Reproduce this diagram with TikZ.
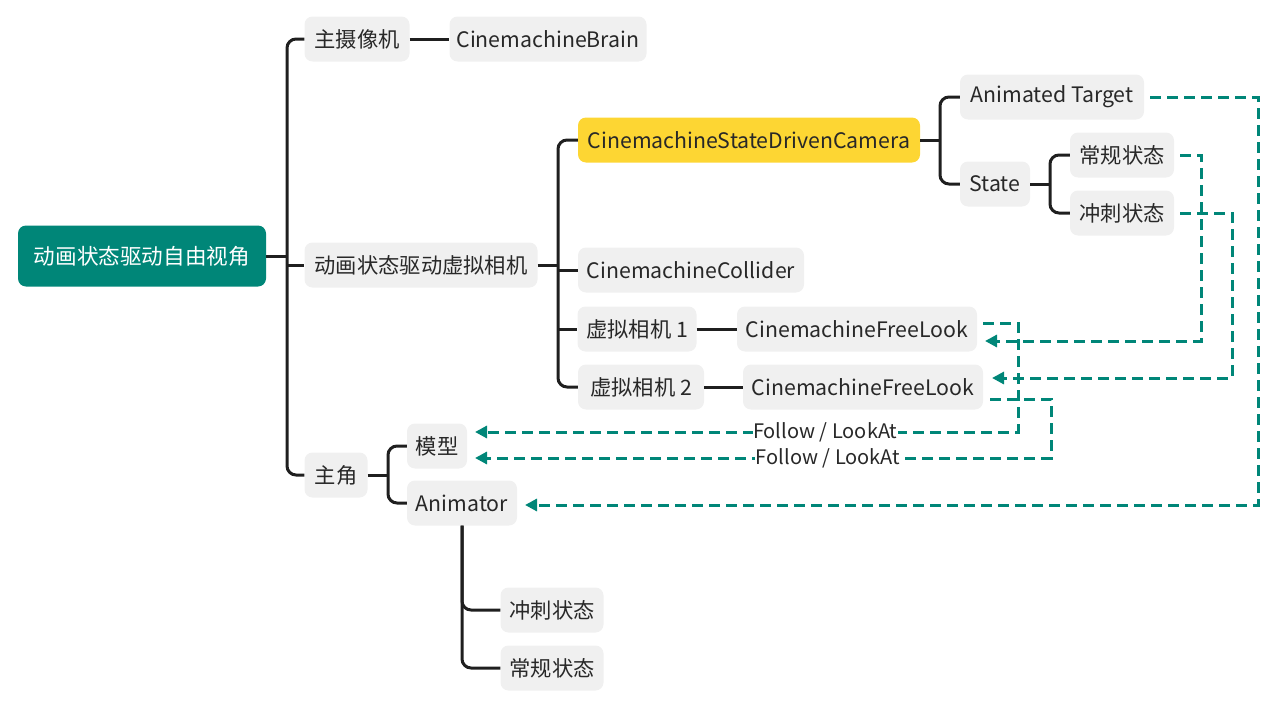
\documentclass[tikz,border=0pt]{standalone}
\usepackage{fontspec}
\setmainfont{Noto Sans CJK SC}
\usetikzlibrary{arrows.meta,calc}
\definecolor{teal1}{RGB}{0,134,120}
\definecolor{boxgrey}{RGB}{240,240,240}
\definecolor{ink}{RGB}{40,40,40}
\definecolor{gold}{RGB}{253,214,51}
\begin{document}
\begin{tikzpicture}[x=1pt,y=-1pt,
  box/.style={rounded corners=8pt, fill=boxgrey, text=ink, font=\fontsize{21.3}{24}\selectfont, minimum height=45pt, inner xsep=0pt, inner ysep=0pt, anchor=center},
  tree/.style={draw=black!88, line width=3pt, rounded corners=9pt},
  link/.style={draw=teal1, line width=3pt, dash pattern=on 11pt off 6pt, -{Triangle[length=12pt,width=12pt]}},
  lbl/.style={fill=white, text=ink, font=\fontsize{20}{22}\selectfont, inner sep=0.5pt}]
\useasboundingbox (0,0) rectangle (1280,704);
% nodes
\node[box, fill=teal1, text=white, minimum width=248pt, minimum height=61pt, font=\fontsize{21.6}{24}\selectfont] (root) at (142,256) {动画状态驱动自由视角};
\node[box, minimum width=105pt] (cam) at (357,39) {主摄像机};
\node[box, minimum width=197pt] (brain) at (548,39) {CinemachineBrain};
\node[box, minimum width=233pt] (vcs) at (421,265) {动画状态驱动虚拟相机};
\node[box, minimum width=63pt] (hero) at (336,475) {主角};
\node[box, fill=gold, minimum width=342pt] (sdc) at (749,140) {CinemachineStateDrivenCamera};
\node[box, minimum width=226pt] (coll) at (691,270) {CinemachineCollider};
\node[box, minimum width=119pt] (vc1) at (637,329) {虚拟相机 1};
\node[box, minimum width=126pt] (vc2) at (641,387) {虚拟相机 2};
\node[box, minimum width=240pt] (fl1) at (857,329) {CinemachineFreeLook};
\node[box, minimum width=240pt] (fl2) at (863,387) {CinemachineFreeLook};
\node[box, minimum width=184pt] (tgt) at (1052,97) {Animated Target};
\node[box, minimum width=70pt] (state) at (995,184) {State};
\node[box, minimum width=104pt] (sn) at (1122,155) {常规状态};
\node[box, minimum width=104pt] (ss) at (1122,213) {冲刺状态};
\node[box, minimum width=60pt] (model) at (437,446) {模型};
\node[box, minimum width=110pt] (anim) at (462,503) {Animator};
\node[box, minimum width=103pt] (as) at (552,610) {冲刺状态};
\node[box, minimum width=103pt] (an) at (552,668) {常规状态};
% spines
\coordinate (s0) at (287,0);
\coordinate (s1) at (558,0);
\coordinate (s2) at (940,0);
\coordinate (s3) at (1050,0);
\coordinate (s4) at (388,0);
% tree connectors
\draw[tree] (cam.west) -| (s0 |- hero.west) -- (hero.west);
\draw[tree] (root.east) -- (root.east -| s0);
\draw[tree] (vcs.west -| s0) -- (vcs.west);
\draw[tree] (cam.east) -- (brain.west);
\draw[tree] (sdc.west) -| (s1 |- vc2.west) -- (vc2.west);
\draw[tree] (vcs.east) -- (vcs.east -| s1);
\draw[tree] (coll.west -| s1) -- (coll.west);
\draw[tree] (vc1.west -| s1) -- (vc1.west);
\draw[tree] (vc1.east) -- (fl1.west);
\draw[tree] (vc2.east) -- (fl2.west);
\draw[tree] (tgt.west) -| (s2 |- state.west) -- (state.west);
\draw[tree] (sdc.east) -- (sdc.east -| s2);
\draw[tree] (sn.west) -| (s3 |- ss.west) -- (ss.west);
\draw[tree] (state.east) -- (state.east -| s3);
\draw[tree] (model.west) -| (s4 |- anim.west) -- (anim.west);
\draw[tree] (hero.east) -- (hero.east -| s4);
\draw[tree] (anim.south) |- (as.west);
\draw[tree] (anim.south) |- (an.west);
% dashed links
\coordinate (t1) at (525,505);
\coordinate (t2) at (985,341);
\coordinate (t3) at (992,378);
\coordinate (t4) at (475,432);
\coordinate (t5) at (475,458);
\draw[link] ([xshift=6pt]tgt.east) -- (1258,97) -- (1258,505) -- (t1);
\draw[link] ([xshift=6pt]sn.east) -- (1201,155) -- (1201,341) -- (t2);
\draw[link] ([xshift=6pt]ss.east) -- (1232,213) -- (1232,378) -- (t3);
\draw[link] ([xshift=6pt,yshift=6pt]fl1.east) -- (1018,323) -- (1018,432) -- node[lbl,pos=0.355]{Follow / LookAt} (t4);
\draw[link] ([xshift=7pt,yshift=-12pt]fl2.east) -- (1051,399) -- (1051,458) -- node[lbl,pos=0.387]{Follow / LookAt} (t5);
\end{tikzpicture}
\end{document}
